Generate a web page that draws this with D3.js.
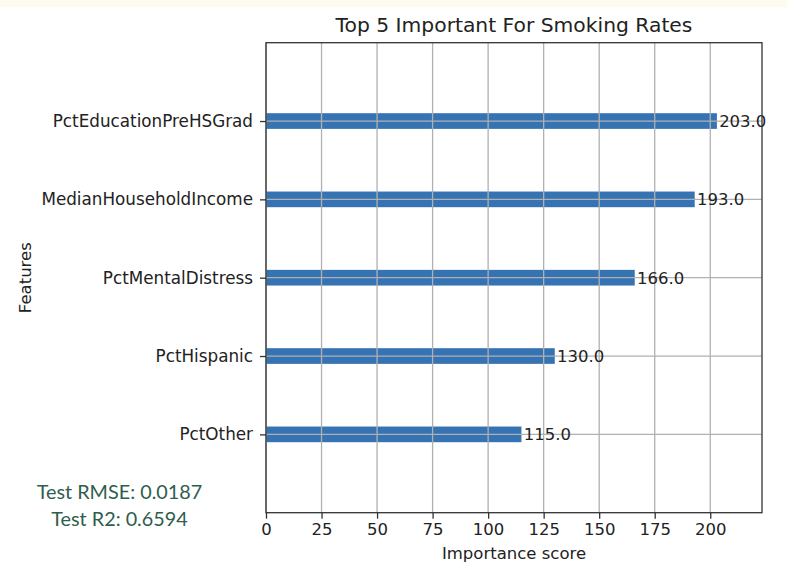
<!DOCTYPE html>
<html>
<head>
<meta charset="utf-8">
<script src="https://cdn.jsdelivr.net/npm/d3@7"></script>
<style>
  body { margin: 0; background: #fff; }
  svg { display: block; }
</style>
</head>
<body>
<svg id="chart" width="787" height="573"></svg>
<script>
// feature names, bottom to top like matplotlib barh
var features = ["PctOther", "PctHispanic", "PctMentalDistress", "MedianHouseholdIncome", "PctEducationPreHSGrad"];
var scores = [115, 130, 166, 193, 203];
var xTicks = [0, 25, 50, 75, 100, 125, 150, 175, 200];
var metrics = ["Test RMSE: 0.0187", "Test R2: 0.6594"];

var svg = d3.select("#chart");
var font = "DejaVu Sans, sans-serif";

// cream strip at the top
svg.append("rect").attr("x", 0).attr("y", 0).attr("width", 787).attr("height", 7).attr("fill", "#fffaee");

var plotL = 266, plotR = 762, plotT = 42.7, plotB = 512.7;

var x = d3.scaleLinear().domain([0, d3.max(scores) * 1.1]).range([plotL, plotR]);
var y = d3.scaleLinear().domain([-1, features.length]).range([plotB, plotT]);
var barH = y(0) - y(0.2);

// bars first, grid drawn over them
svg.append("g").selectAll("rect")
  .data(scores)
  .join("rect")
  .attr("x", x(0))
  .attr("y", function(d, i) { return y(i) - barH / 2; })
  .attr("width", function(d) { return x(d) - x(0); })
  .attr("height", barH)
  .attr("fill", "#3673b3");

// grid
var grid = svg.append("g").attr("stroke", "#b0b0b0").attr("stroke-width", 1.3);
grid.selectAll(".gx").data(xTicks).join("line")
  .attr("x1", function(d) { return x(d); }).attr("x2", function(d) { return x(d); })
  .attr("y1", plotT).attr("y2", plotB);
grid.selectAll(".gy").data(features).join("line")
  .attr("x1", plotL).attr("x2", plotR)
  .attr("y1", function(d, i) { return y(i); }).attr("y2", function(d, i) { return y(i); });

// value labels
svg.append("g").selectAll("text")
  .data(scores)
  .join("text")
  .attr("x", function(d) { return x(d + 1); })
  .attr("y", function(d, i) { return y(i); })
  .attr("dy", "0.36em")
  .attr("font-family", font)
  .attr("font-size", 16.5)
  .attr("fill", "#222")
  .text(function(d) { return d.toFixed(1); });

// axes
var xAxis = d3.axisBottom(x).tickValues(xTicks).tickSize(6).tickPadding(5).tickSizeOuter(0);
var gx = svg.append("g").attr("transform", "translate(0," + plotB + ")").call(xAxis);
gx.select(".domain").remove();
gx.selectAll("line").attr("stroke", "#333").attr("stroke-width", 1.3);
gx.selectAll("text").attr("font-family", font).attr("font-size", 16.5).attr("fill", "#222");

var yAxis = d3.axisLeft(y).tickValues(d3.range(features.length))
  .tickFormat(function(i) { return features[i]; }).tickSize(6).tickPadding(7).tickSizeOuter(0);
var gy = svg.append("g").attr("transform", "translate(" + plotL + ",0)").call(yAxis);
gy.select(".domain").remove();
gy.selectAll("line").attr("stroke", "#333").attr("stroke-width", 1.3);
gy.selectAll("text").attr("font-family", font).attr("font-size", 16.8).attr("fill", "#222");

// frame
svg.append("rect")
  .attr("x", plotL).attr("y", plotT)
  .attr("width", plotR - plotL).attr("height", plotB - plotT)
  .attr("fill", "none").attr("stroke", "#333").attr("stroke-width", 1.3);

// titles
svg.append("text")
  .attr("x", (plotL + plotR) / 2).attr("y", 32)
  .attr("text-anchor", "middle")
  .attr("font-family", font).attr("font-size", 20.3).attr("fill", "#222")
  .text("Top 5 Important For Smoking Rates");

svg.append("text")
  .attr("x", (plotL + plotR) / 2).attr("y", 559)
  .attr("text-anchor", "middle")
  .attr("font-family", font).attr("font-size", 16.5).attr("fill", "#222")
  .text("Importance score");

svg.append("text")
  .attr("transform", "translate(31," + (plotT + plotB) / 2 + ") rotate(-90)")
  .attr("text-anchor", "middle")
  .attr("font-family", font).attr("font-size", 16.5).attr("fill", "#222")
  .text("Features");

// metrics text
svg.append("g").selectAll("text")
  .data(metrics)
  .join("text")
  .attr("x", 119.5)
  .attr("y", function(d, i) { return 499 + i * 27; })
  .attr("text-anchor", "middle")
  .attr("font-family", "Lato, sans-serif")
  .attr("font-size", 19.8)
  .attr("fill", "#2f5e4c")
  .text(function(d) { return d; });
</script>
</body>
</html>
